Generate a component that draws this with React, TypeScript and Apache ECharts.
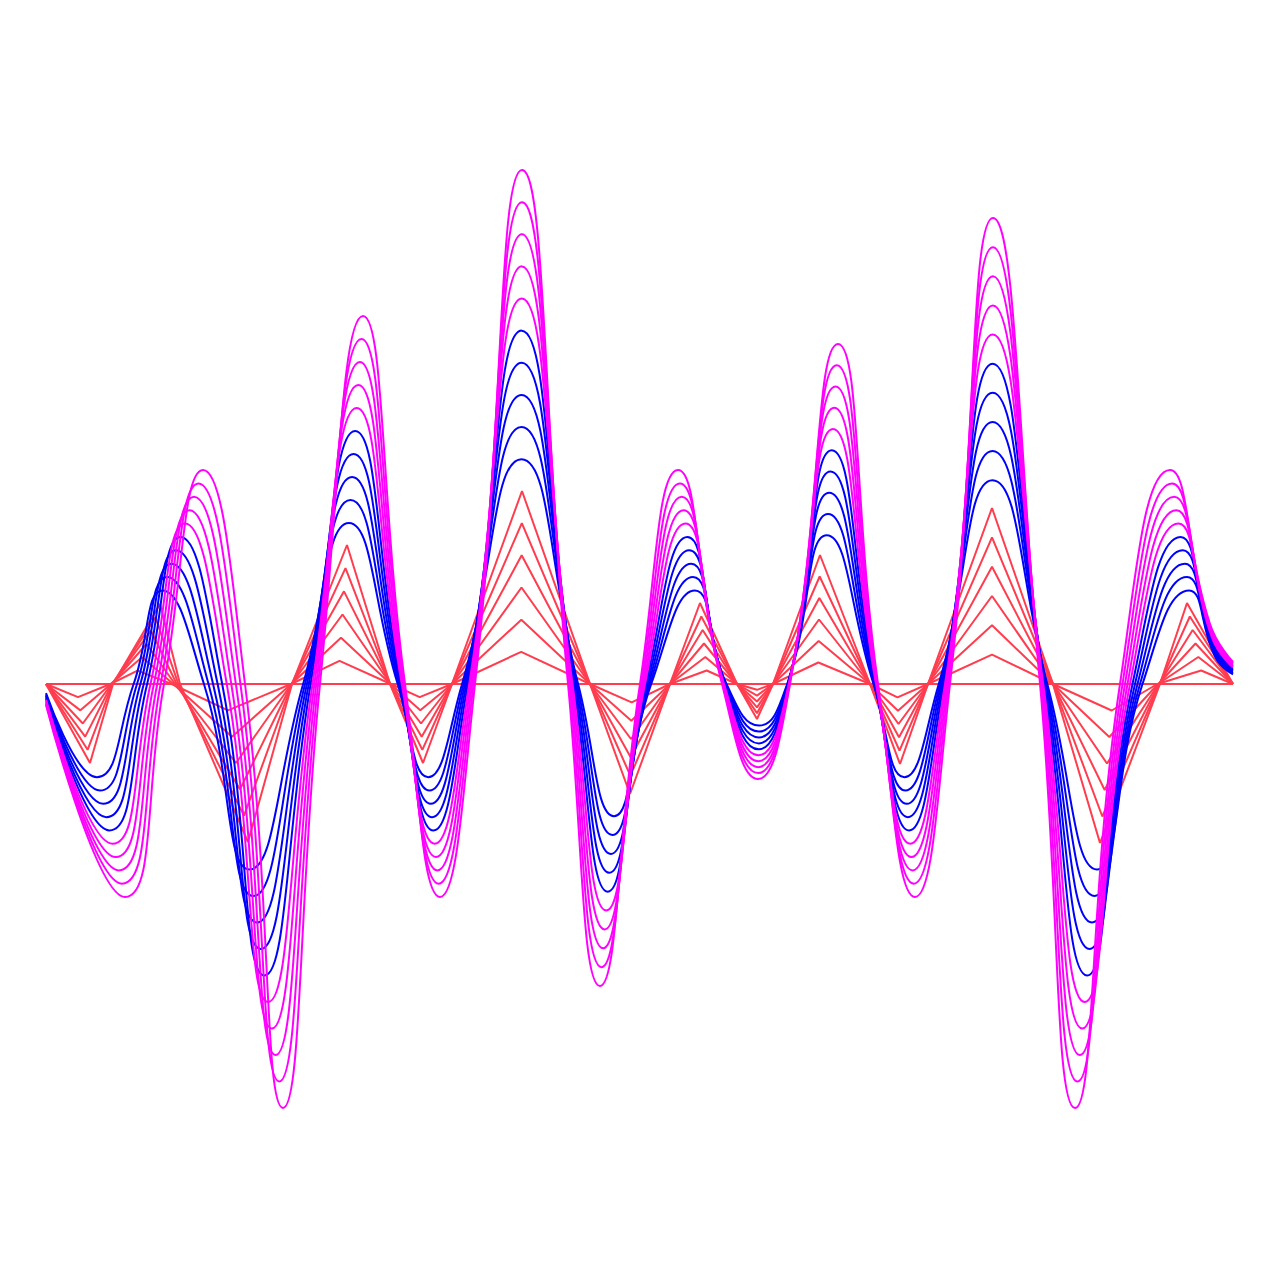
import React, { useEffect, useRef } from "react";
import * as echarts from "echarts";

// Smooth family (blue / magenta) key nodes at full level: x position, value above baseline
const nodeX = [46, 125, 164, 203, 245, 283, 320, 363, 405, 440, 475, 522, 568, 600, 640, 678, 722, 758, 790, 838, 878, 915, 950, 993, 1040, 1075, 1120, 1170, 1210, 1233];
const nodeY = [-21, -213, 0, 214, 0, -424, 0, 368, 0, -213, 0, 514, 0, -302, 0, 214, 0, -95, 0, 340, 0, -213, 0, 466, 0, -424, 0, 214, 60, 22];
// Positions of the same nodes on the flat (level 0) line
const nodeU = [46, 75, 110, 131, 172, 224, 290, 338, 392, 419, 452, 521, 586, 625, 660, 708, 730, 760, 785, 818, 870, 896, 930, 992, 1053, 1114, 1160, 1204, 1220, 1233];

// Red polyline vertices, as read on the 6th red line
const redX = [46, 90, 113, 160, 180, 248, 292, 347, 390, 423, 452, 522, 590, 630, 670, 700, 737, 757, 773, 820, 870, 900, 928, 992, 1053, 1100, 1160, 1187, 1233];
const redY = [0, -79, 0, 80, 0, -158, 0, 139, 0, -79, 0, 193, 0, -110, 0, 81, 0, -35, 0, 129, 0, -80, 0, 176, 0, -159, 0, 81, 0];
const redU = [46, 75.6, 110, 133, 170, 224, 291, 338, 391, 419, 452, 521, 590, 632, 670, 708, 737, 757, 773, 818, 870, 897, 928, 992, 1053, 1114, 1157, 1204, 1233];

// Levels of the 17 curves (fraction of full amplitude)
const levels = [0, 0.0625, 0.125, 0.1875, 0.25, 0.3125, 0.375, 0.4375, 0.5, 0.5625, 0.625, 0.6875, 0.75, 0.8125, 0.875, 0.9375, 1];
const RED_LEVEL = 0.375;
const colors = [
  "#ff3d4f", "#ff3d4f", "#ff3d4f", "#ff3d4f", "#ff3d4f", "#ff3d4f", "#ff3d4f",
  "#0000ff", "#0000ff", "#0000ff", "#0000ff", "#0000ff",
  "#ff00ff", "#ff00ff", "#ff00ff", "#ff00ff", "#ff00ff",
];

export default function App() {
  const ref = useRef<HTMLDivElement>(null);
  useEffect(() => {
    if (!ref.current) return;
    const chart = echarts.init(ref.current, null, { renderer: "svg" });
    const series = levels.map((b, k) => {
      const isRed = k <= 6;
      let data: number[][];
      if (isRed) {
        const f = b / RED_LEVEL;
        data = redX.map((x, i) => [redU[i] + f * (x - redU[i]), f * redY[i]]);
      } else {
        data = nodeX.map((x, i) => [nodeU[i] + b * (x - nodeU[i]), b * nodeY[i]]);
      }
      return {
        type: "line",
        data,
        smooth: isRed ? false : 0.5,
        showSymbol: false,
        symbol: "none",
        lineStyle: { color: colors[k], width: 2 },
      };
    });
    chart.setOption({
      animation: false,
      backgroundColor: "#ffffff",
      grid: { left: 46, right: 47, top: 124, bottom: 36 },
      xAxis: { type: "value", min: 46, max: 1233, show: false },
      yAxis: { type: "value", min: -560, max: 560, show: false },
      series,
    });
    return () => chart.dispose();
  }, []);
  return <div ref={ref} style={{ position: "fixed", left: 0, top: 0, width: 1280, height: 1280 }} />;
}
